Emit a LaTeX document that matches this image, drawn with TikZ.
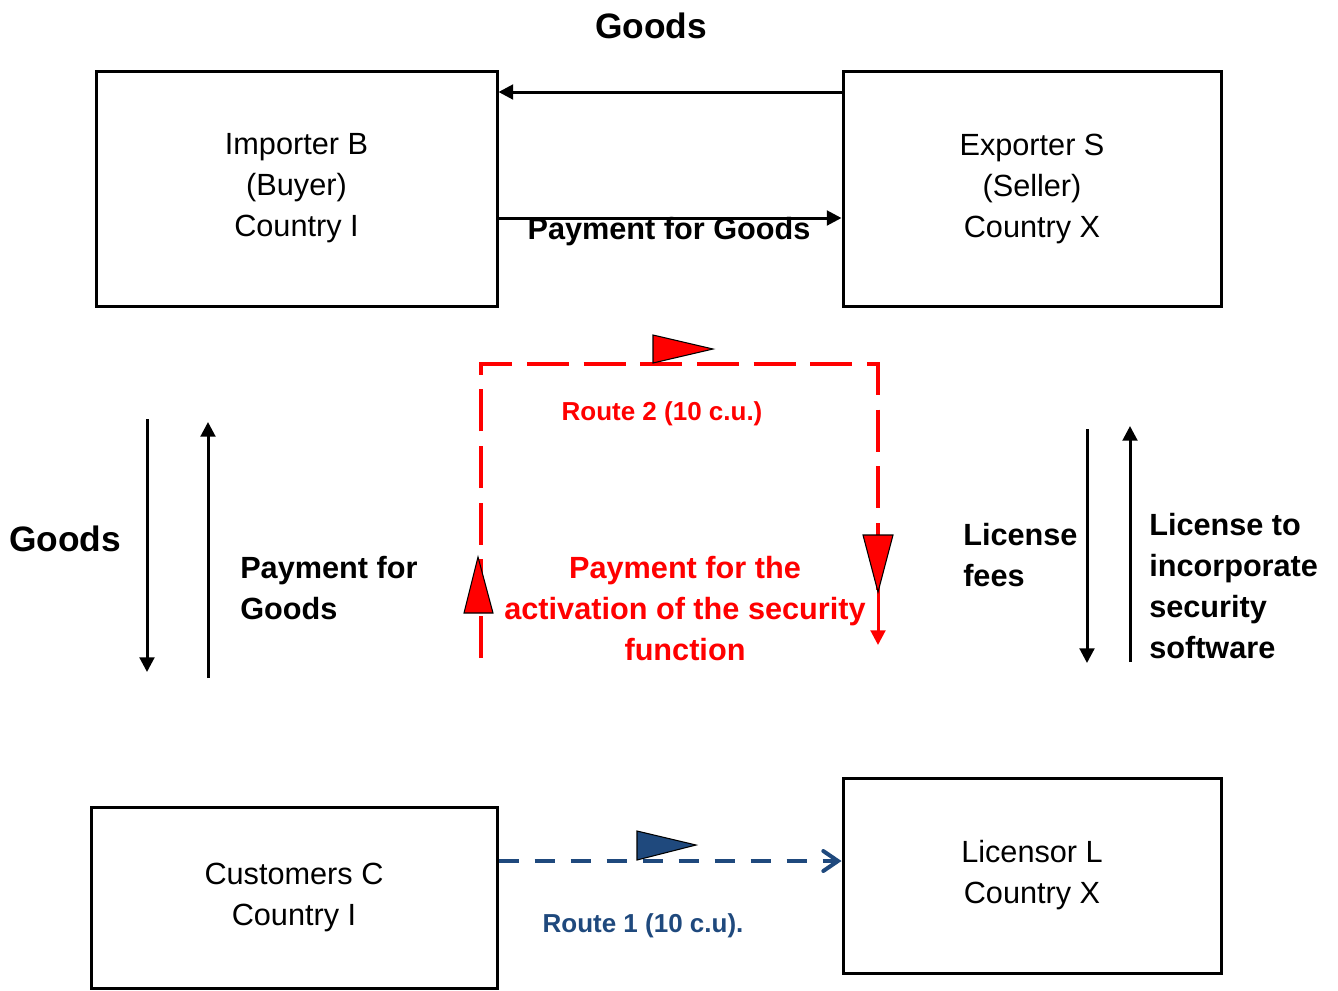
\documentclass[tikz,border=0pt]{standalone}
\usepackage{fontspec}
\setmainfont{Liberation Sans}
\usetikzlibrary{arrows.meta,calc}
\definecolor{routered}{RGB}{255,0,0}
\definecolor{routeblue}{RGB}{31,73,125}
\tikzset{
  party/.style={draw, line width=2.25pt, align=center, inner sep=0pt,
    font=\fontsize{23}{30.75}\selectfont},
  flow/.style={line width=2.25pt, -{Triangle[length=11pt,width=11pt]}},
  lbl/.style={inner sep=0pt, font=\fontsize{23}{30.75}\selectfont\bfseries},
  head/.style={inner sep=0pt, font=\fontsize{26.5}{32}\selectfont\bfseries},
  routelbl/.style={inner sep=0pt, font=\fontsize{19.5}{24}\selectfont\bfseries},
  flag/.style={draw=black, line width=0.8pt},
}
\begin{document}
\begin{tikzpicture}[x=0.75pt, y=-0.75pt]
	\useasboundingbox (0,0) rectangle (1338,990);
	\node[party, minimum width=300.75pt, minimum height=176.25pt] (imp) at (296.5,188.5) {Importer B\\(Buyer)\\Country I};
	\node[party, minimum width=283.5pt, minimum height=176.25pt] (exp) at (1032,188.5) {Exporter S\\(Seller)\\Country X};
	\node[party, minimum width=304.5pt, minimum height=135.75pt] (cust) at (294,897.5) {Customers C\\Country I};
	\node[party, minimum width=283.5pt, minimum height=146.25pt] (lic) at (1032,875.5) {Licensor L\\Country X};
	% goods and payment between B and S
	\draw[flow] ($(exp.west)+(0,-96.5)$) -- ($(imp.east)+(0,-96.5)$);
	\draw[flow] ($(imp.east)+(0,29.5)$) -- ($(exp.west)+(0,29.5)$);
	\node[head] (goodsTop) at (651,26) {Goods};
	\node[lbl] (payTop) at (669,232) {Payment for Goods};
	% left side
	\coordinate (gTop) at (147,419);
	\coordinate (gBot) at (147,672);
	\coordinate (pBot) at (208,678);
	\coordinate (pTop) at (208,422);
	\draw[flow] (gTop) -- (gBot);
	\draw[flow] (pBot) -- (pTop);
	\node[head] (goodsSide) at (65,539) {Goods};
	\node[lbl, align=left, anchor=west] (paySide) at (240,588) {Payment for\\Goods};
	% right side
	\coordinate (fTop) at (1087,429);
	\coordinate (fBot) at (1087,663);
	\coordinate (lBot) at (1130,662);
	\coordinate (lTop) at (1130,426);
	\draw[flow] (fTop) -- (fBot);
	\draw[flow] (lBot) -- (lTop);
	\node[lbl, align=left, anchor=west] (fees) at (963,555) {License\\fees};
	\node[lbl, align=left, anchor=west] (licence) at (1149,586) {License to\\incorporate\\security\\software};
	% route 2
	\coordinate (r1) at (481,658);
	\coordinate (r2) at (481,364);
	\coordinate (r3) at (878,364);
	\coordinate (r4) at (878,590);
	\coordinate (r5) at (878,645);
	\draw[routered, line width=3pt, dash pattern=on 31.5pt off 11pt] (r1) -- (r2) -- (r3) -- (r4);
	\draw[routered, line width=2.25pt, -{Triangle[length=11pt,width=11pt]}] (r4) -- (r5);
	\filldraw[flag, fill=routered] (653,335) -- (653,363) -- (713,349) -- cycle;
	\filldraw[flag, fill=routered] (464,613) -- (493,613) -- (478,557) -- cycle;
	\filldraw[flag, fill=routered] (863,535) -- (893,535) -- (878,592) -- cycle;
	\node[routelbl, text=routered] (route2) at (662,414) {Route 2 (10 c.u.)};
	\node[lbl, text=routered, align=center] (actPay) at (685,609) {Payment for the\\activation of the security\\function};
	% route 1
	\draw[routeblue, line width=3pt, dash pattern=on 15.5pt off 11.5pt, -{Straight Barb[length=11pt,width=15pt,line cap=round]}] ($(cust.east)+(0,-36.5)$) -- ($(lic.west)+(0,-14.5)$);
	\filldraw[flag, fill=routeblue] (637,831) -- (637,860) -- (696,845) -- cycle;
	\node[routelbl, text=routeblue] (route1) at (643,926) {Route 1 (10 c.u).};
\end{tikzpicture}
\end{document}
